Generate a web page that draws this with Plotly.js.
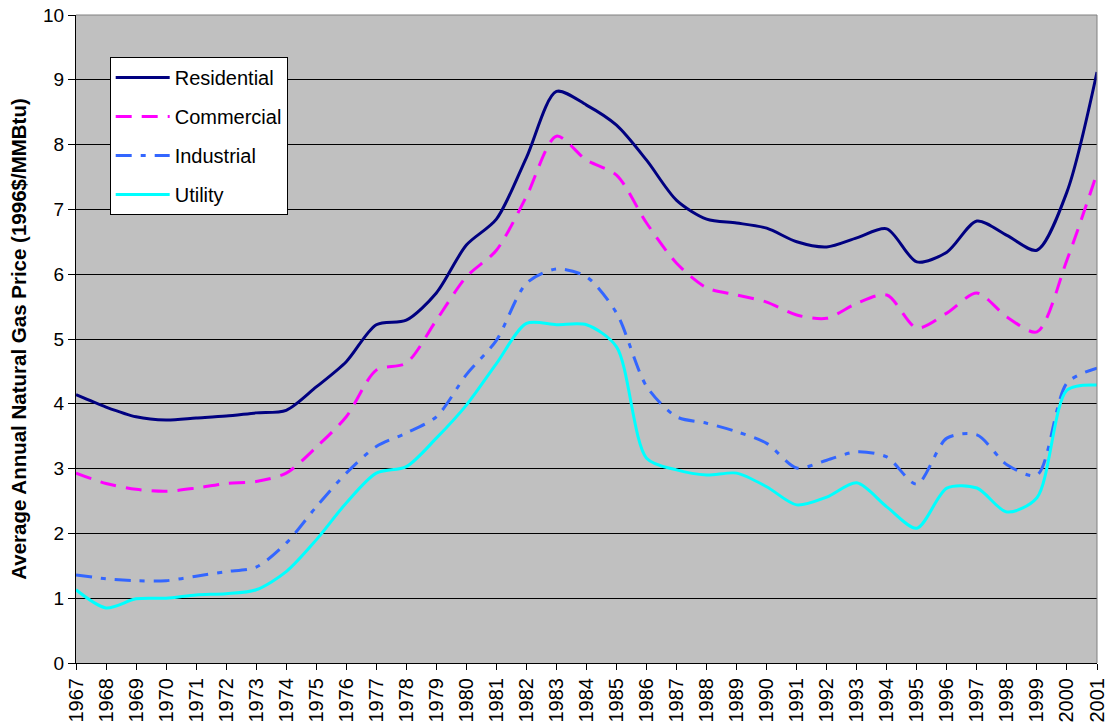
<!DOCTYPE html>
<html>
<head>
<meta charset="utf-8">
<script src="https://cdn.plot.ly/plotly-3.0.1.min.js"></script>
<style>html,body{margin:0;padding:0;background:#fff;}#chart{width:1107px;height:727px;}</style>
</head>
<body>
<div id="chart"></div>
<script>
const years = [1967,1968,1969,1970,1971,1972,1973,1974,1975,1976,1977,1978,1979,1980,1981,1982,1983,1984,1985,1986,1987,1988,1989,1990,1991,1992,1993,1994,1995,1996,1997,1998,1999,2000,2001];
const residential = [4.14,3.95,3.80,3.75,3.78,3.81,3.86,3.90,4.26,4.65,5.22,5.29,5.71,6.45,6.85,7.80,8.82,8.61,8.30,7.76,7.14,6.85,6.79,6.71,6.50,6.42,6.56,6.70,6.19,6.34,6.82,6.60,6.37,7.27,9.12];
const commercial = [2.93,2.77,2.68,2.65,2.70,2.77,2.80,2.93,3.33,3.80,4.52,4.63,5.29,5.96,6.37,7.20,8.13,7.76,7.53,6.79,6.17,5.79,5.68,5.57,5.37,5.32,5.55,5.68,5.17,5.40,5.71,5.34,5.11,6.22,7.56];
const industrial = [1.36,1.30,1.27,1.27,1.34,1.41,1.48,1.85,2.41,2.93,3.34,3.55,3.80,4.45,4.98,5.86,6.08,5.96,5.40,4.27,3.80,3.70,3.57,3.39,3.01,3.13,3.26,3.18,2.76,3.47,3.52,3.06,2.90,4.32,4.55];
const utility = [1.13,0.85,0.99,1.00,1.05,1.07,1.13,1.41,1.90,2.47,2.93,3.03,3.47,3.98,4.62,5.24,5.22,5.22,4.88,3.16,2.98,2.90,2.93,2.72,2.44,2.56,2.78,2.41,2.08,2.70,2.70,2.33,2.55,4.21,4.29];

const seriesNames = ['Residential','Commercial','Industrial','Utility'];

function tr(name, y, color, dash, group) {
  return {x: years, y: y, name: name, type: 'scatter', mode: 'lines',
    legendgroup: group,
    line: {color: color, width: 3, dash: dash, shape: 'spline', smoothing: 0.8}};
}
const data = [
  tr(seriesNames[0], residential, '#000080', 'solid', 'a'),
  tr(seriesNames[1], commercial, '#FF00FF', '16px,10px', 'b'),
  tr(seriesNames[2], industrial, '#3366FF', '16px,9px,5px,9px', 'c'),
  tr(seriesNames[3], utility, '#00FFFF', 'solid', 'd')
];
const FONT = 'Arial, "Liberation Sans", sans-serif';
const layout = {
  width: 1107, height: 727,
  margin: {l: 76, r: 10, t: 15, b: 64},
  paper_bgcolor: '#FFFFFF', plot_bgcolor: '#C0C0C0',
  font: {family: FONT, size: 20, color: '#000'},
  showlegend: true,
  legend: {x: 0.033, y: 0.935, xanchor: 'left', yanchor: 'top', bgcolor: '#FFFFFF',
    bordercolor: '#000', borderwidth: 1, tracegroupgap: 10, itemwidth: 54,
    font: {size: 20, family: FONT}},
  xaxis: {range: [1967, 2001], tickmode: 'array', tickvals: years, ticktext: years.map(String),
    tickangle: -90, ticks: 'outside', ticklen: 6, tickcolor: '#000', showgrid: false,
    showline: true, linecolor: '#000', linewidth: 1, zeroline: false,
    tickfont: {size: 20}, fixedrange: true, ticklabeloverflow: 'allow'},
  yaxis: {range: [0, 10], dtick: 1, ticks: 'outside', ticklen: 7, tickcolor: '#000',
    showgrid: true, gridcolor: '#000', gridwidth: 1, showline: true, linecolor: '#000',
    linewidth: 1, zeroline: false, tickfont: {size: 19},
    title: {text: '<b>Average Annual Natural Gas Price (1996$/MMBtu)</b>', font: {size: 20.5}, standoff: 10}},
  shapes: [
    {type: 'line', xref: 'paper', yref: 'paper', x0: 1, x1: 1, y0: 0, y1: 1, line: {color: '#808080', width: 1}},
    {type: 'line', xref: 'paper', yref: 'paper', x0: 0, x1: 1, y0: 1, y1: 1, line: {color: '#808080', width: 1}}
  ]
};
Plotly.newPlot('chart', data, layout, {displayModeBar: false, staticPlot: true});
</script>
</body>
</html>
